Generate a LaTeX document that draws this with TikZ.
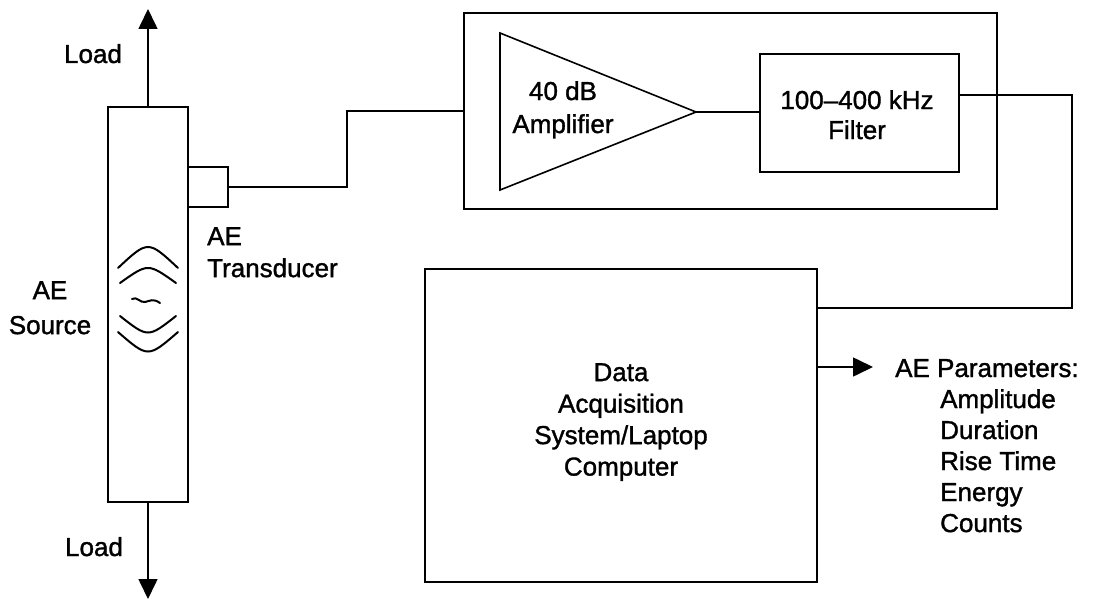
\documentclass[tikz,border=0pt]{standalone}
\usepackage{fontspec}
\setmainfont{Liberation Sans}
\newfontfamily\txtfont{Liberation Sans}[FakeBold=1.3]
\usetikzlibrary{arrows.meta}

\begin{document}
\begin{tikzpicture}[x=1pt,y=-1pt,
  wire/.style={line width=1.6pt, line join=miter},
  box/.style={draw, line width=1.6pt, rectangle, inner sep=0pt},
  lbl/.style={inner sep=0pt, font=\txtfont\fontsize{26}{31.5}\selectfont},
  tip/.style={-{Triangle[length=20pt,width=19pt]}}
]
% page frame
\path[use as bounding box, fill=white] (0,0) rectangle (1095,602);

% specimen with transducer
\node[box, minimum width=80pt, minimum height=395pt] (spec) at (148,304.5) {};
\node[box, minimum width=40pt, minimum height=40pt] (xdr) at (208,187) {};

% load arrows
\coordinate (ltop) at (148,9);
\coordinate (lbot) at (148,599);
\draw[wire, tip] (spec.north) -- (ltop);
\draw[wire, tip] (spec.south) -- (lbot);
\node[lbl, anchor=base] (loadtop) at (93,63) {Load};
\node[lbl, anchor=base] (loadbot) at (94,556) {Load};

% source wavefronts
\begin{scope}[line width=2pt, line cap=round]
  \draw (118,268) .. controls (148,240) .. (178,268);
  \draw (120,283) .. controls (148,263) .. (176,283);
  \draw (132,299) .. controls (137,296) and (140,303) .. (145,302)
                  .. controls (150,301) and (153,298) .. (160,303);
  \draw (120,316) .. controls (148,338) .. (176,316);
  \draw (118,332) .. controls (148,358) .. (178,332);
\end{scope}
\node[lbl, anchor=north, align=center, font=\txtfont\fontsize{26}{35}\selectfont] (srclbl) at (50,281) {AE\\Source};
\node[lbl, anchor=north west, align=left, font=\txtfont\fontsize{26}{32}\selectfont] (xdrlbl) at (207,227) {AE\\Transducer};

% preamplifier unit
\node[box, minimum width=533pt, minimum height=196pt] (outer) at (730.5,111) {};
\coordinate (a1) at (500,33);
\coordinate (a2) at (500,190);
\coordinate (atip) at (696,112);
\draw[wire] (a1) -- (atip) -- (a2) -- cycle;
\node[lbl, anchor=north, align=center, font=\txtfont\fontsize{26}{33}\selectfont] (amplbl) at (563,81) {40 dB\\Amplifier};
\node[box, minimum width=199pt, minimum height=118pt] (filter) at (859.5,113) {};
\node[lbl, anchor=north, align=center, font=\txtfont\fontsize{26}{30}\selectfont] (filtlbl) at (857,90) {100–400 kHz\\Filter};
\draw[wire] (atip) -- (atip -| filter.west);

% transducer cable
\coordinate (j1) at (347,187);
\draw[wire] (xdr.east) -- (j1) |- (outer.west);

% data acquisition
\node[box, minimum width=392pt, minimum height=313pt] (daq) at (621,425.5) {};
\node[lbl, anchor=north, align=center] (daqlbl) at (621,363) {Data\\Acquisition\\System/Laptop\\Computer};

% filter to acquisition cable
\coordinate (j2) at (1072,308);
\draw[wire] ([yshift=18pt]filter.east) -| (j2) -- (j2 -| daq.east);

% output parameters
\coordinate (pend) at (873,367);
\draw[wire, tip] ([yshift=58.5pt]daq.east) -- (pend);
\node[lbl, anchor=base west] (params) at (895,377) {AE Parameters:};
\node[lbl, anchor=north west, align=left, font=\txtfont\fontsize{26}{31}\selectfont] (plist) at (940,389)
  {Amplitude\\Duration\\Rise Time\\Energy\\Counts};
\end{tikzpicture}
\end{document}
